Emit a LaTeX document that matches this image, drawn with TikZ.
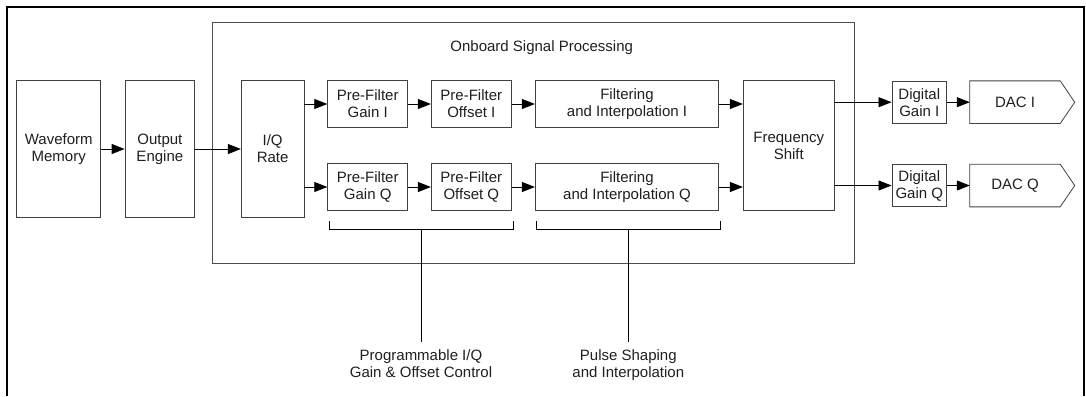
\documentclass[tikz,border=0pt]{standalone}
\usepackage{fontspec}
\setmainfont{Liberation Sans}
\usetikzlibrary{arrows.meta,calc}
\begin{document}
\begin{tikzpicture}[x=1pt,y=-1pt,
  txt/.style={font=\fontsize{15}{17}\selectfont, text=black!88},
  blk/.style={draw=black!75, line width=0.8pt, fill=white, txt, align=center, inner sep=0pt},
  sblk/.style={blk, minimum width=80pt, minimum height=46.6pt},
  tall/.style={blk, minimum height=136.6pt},
  arr/.style={draw=black, line width=0.85pt, -{Triangle[length=13pt,width=10pt]}},
  lnk/.style={draw=black, line width=0.85pt},
  ]
\useasboundingbox (0,0) rectangle (1086,396);

% outer frame, open at the bottom
\draw[line width=2.2pt] (7,396) -- (7,7) -- (1084,7) -- (1084,396);

% onboard processing enclosure
\node[draw=black!70, line width=0.8pt, minimum width=642.3pt, minimum height=240.6pt, inner sep=0pt] (osp) at (533.15,143) {};
\node[txt] (ospt) at (541.7,47.3) {Onboard Signal Processing};

% main chain
\node[tall, minimum width=84pt] (wm) at (58.7,149) {Waveform\\Memory};
\node[tall, minimum width=69.7pt] (oe) at (159.85,149) {Output\\Engine};
\node[tall, minimum width=62.7pt] (iq) at (272.65,149) {I/Q\\Rate};

% I path
\node[sblk] (pgi) at (367.7,104) {Pre-Filter\\Gain I};
\node[sblk] (poi) at (471.3,104) {Pre-Filter\\Offset I};
\node[sblk, minimum width=183.4pt] (fi) at (627,104) {Filtering\\and Interpolation I};
% Q path
\node[sblk] (pgq) at (367.7,187) {Pre-Filter\\Gain Q};
\node[sblk] (poq) at (471.3,187) {Pre-Filter\\Offset Q};
\node[sblk, minimum width=183.4pt] (fq) at (627,187) {Filtering\\and Interpolation Q};

\node[blk, minimum width=91pt, minimum height=130pt] (fs) at (788.8,145.7) {Frequency\\Shift};

% outputs
\node[blk, minimum width=54.7pt, minimum height=42.3pt] (dgi) at (919.3,102.2) {Digital\\Gain I};
\node[blk, minimum width=54.7pt, minimum height=42.3pt] (dgq) at (919.3,185.5) {Digital\\Gain Q};

\node[txt, minimum width=90pt, minimum height=42.3pt, inner sep=0pt] (daci) at (1015,102.2) {DAC I};
\node[txt, minimum width=90pt, minimum height=42.3pt, inner sep=0pt] (dacq) at (1015,185.5) {DAC Q};
\foreach \d in {daci,dacq}
  \draw[draw=black!75, line width=0.8pt]
    (\d.north west) -- (\d.north east) -- ([xshift=14.5pt]\d.east)
    -- (\d.south east) -- (\d.south west) -- cycle;

% signal flow
\draw[arr] (wm) -- (oe);
\draw[arr] (oe) -- (iq);
\draw[arr] (iq.east |- pgi.west) -- (pgi.west);
\draw[arr] (iq.east |- pgq.west) -- (pgq.west);
\draw[arr] (pgi) -- (poi);
\draw[arr] (poi) -- (fi);
\draw[arr] (pgq) -- (poq);
\draw[arr] (poq) -- (fq);
\draw[arr] (fi.east) -- (fs.west |- fi.east);
\draw[arr] (fq.east) -- (fs.west |- fq.east);
\draw[arr] (fs.east |- dgi.west) -- (dgi.west);
\draw[arr] (fs.east |- dgq.west) -- (dgq.west);
\draw[arr] (dgi) -- (daci);
\draw[arr] (dgq) -- (dacq);

% group brackets and their captions
\coordinate (b1) at (421,229.3);
\coordinate (b2) at (628.3,229.3);
\draw[lnk] (329.3,221) -- (329.3,229.3) -- (513.3,229.3) -- (513.3,221);
\draw[lnk] (536.7,221) -- (536.7,229.3) -- (720,229.3) -- (720,221);
\node[txt, align=center, inner sep=0pt, anchor=north] (lab1) at (421,349.5) {Programmable I/Q\\Gain \& Offset Control};
\node[txt, align=center, inner sep=0pt, anchor=north] (lab2) at (628.3,349.5) {Pulse Shaping\\and Interpolation};
\draw[lnk] (b1) -- ([yshift=7.2pt]lab1.north);
\draw[lnk] (b2) -- ([yshift=7.2pt]lab2.north);
\end{tikzpicture}
\end{document}
